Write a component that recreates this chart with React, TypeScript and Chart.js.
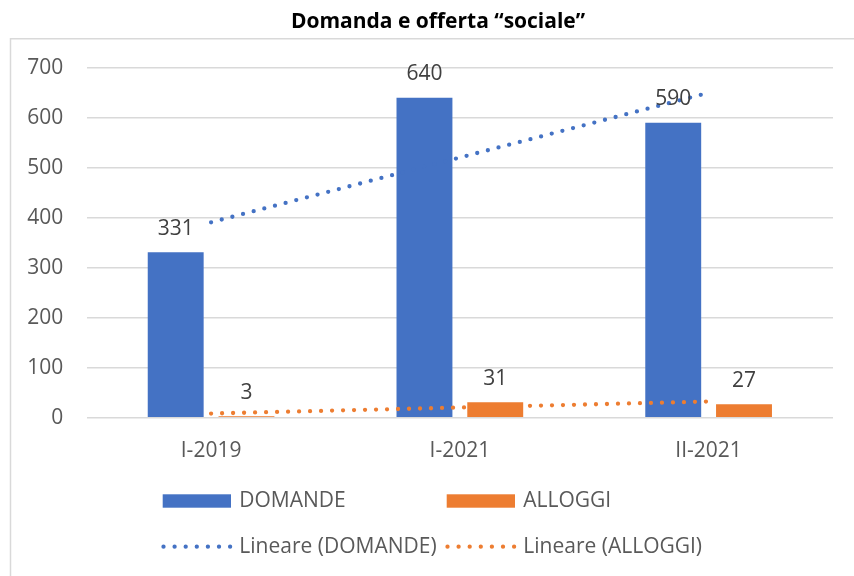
import React, { useEffect, useRef } from "react";
import { Chart, registerables } from "chart.js";

Chart.register(...registerables);

const categories = ["I-2019", "I-2021", "II-2021"];
const domande = [331, 640, 590];
const alloggi = [3, 31, 27];
const yTicks = [0, 100, 200, 300, 400, 500, 600, 700];
const titleText = "Domanda e offerta \u201csociale\u201d";
const legendLabels = ["DOMANDE", "ALLOGGI", "Lineare (DOMANDE)", "Lineare (ALLOGGI)"];

const BLUE = "#4472C4";
const ORANGE = "#ED7D31";
const FONT = "'Open Sans', 'Liberation Sans', sans-serif";

function linearTrend(values: number[]): number[] {
  const n = values.length;
  const xs = values.map((_, i) => i + 1);
  const mx = xs.reduce((a, b) => a + b, 0) / n;
  const my = values.reduce((a, b) => a + b, 0) / n;
  let num = 0;
  let den = 0;
  for (let i = 0; i < n; i++) {
    num += (xs[i] - mx) * (values[i] - my);
    den += (xs[i] - mx) * (xs[i] - mx);
  }
  const slope = num / den;
  return xs.map((x) => my + slope * (x - mx));
}

const decorPlugin = {
  id: "decor",
  beforeDraw(chart: any) {
    const ctx = chart.ctx;
    ctx.save();
    ctx.strokeStyle = "#d9d9d9";
    ctx.lineWidth = 1.5;
    ctx.beginPath();
    ctx.moveTo(10.5, 576);
    ctx.lineTo(10.5, 38.7);
    ctx.lineTo(854, 38.7);
    ctx.stroke();
    ctx.fillStyle = "#000000";
    ctx.font = `bold 21px ${FONT}`;
    ctx.textAlign = "center";
    ctx.textBaseline = "alphabetic";
    ctx.fillText(titleText, 438, 28.3);
    ctx.restore();
  },
  afterDatasetsDraw(chart: any) {
    const ctx = chart.ctx;
    ctx.save();
    ctx.font = `21px ${FONT}`;
    ctx.fillStyle = "#404040";
    ctx.textAlign = "center";
    ctx.textBaseline = "alphabetic";
    [0, 1].forEach((di) => {
      const meta = chart.getDatasetMeta(di);
      const ds = chart.data.datasets[di];
      meta.data.forEach((el: any, i: number) => {
        ctx.fillText(String(ds.data[i]), el.x, el.y - 17.5);
      });
    });
    ctx.restore();
  },
  afterDraw(chart: any) {
    const ctx = chart.ctx;
    ctx.save();
    ctx.font = `21px ${FONT}`;
    ctx.fillStyle = "#595959";
    ctx.textAlign = "left";
    ctx.textBaseline = "middle";
    const cols = [162.7, 446.7];
    const rows = [501, 546.7];
    const colors = [BLUE, ORANGE];
    for (let c = 0; c < 2; c++) {
      ctx.fillStyle = colors[c];
      ctx.fillRect(cols[c], rows[0] - 6.7, 68.3, 13.4);
      ctx.fillStyle = "#595959";
      ctx.fillText(legendLabels[c], cols[c] + 76.6, rows[0]);
    }
    for (let c = 0; c < 2; c++) {
      ctx.strokeStyle = colors[c];
      ctx.lineWidth = 4.3;
      ctx.lineCap = "round";
      ctx.setLineDash([0, 11.1]);
      ctx.beginPath();
      ctx.moveTo(cols[c] + 0.8, rows[1]);
      ctx.lineTo(cols[c] + 68, rows[1]);
      ctx.stroke();
      ctx.setLineDash([]);
      ctx.fillStyle = "#595959";
      ctx.fillText(legendLabels[c + 2], cols[c] + 76.6, rows[1]);
    }
    ctx.restore();
  },
};

export default function App() {
  const ref = useRef<HTMLCanvasElement | null>(null);
  useEffect(() => {
    if (!ref.current) return;
    const chart = new Chart(ref.current, {
      type: "bar",
      data: {
        labels: categories,
        datasets: [
          {
            type: "bar",
            label: "DOMANDE",
            data: domande,
            backgroundColor: BLUE,
            categoryPercentage: 0.569,
            barPercentage: 0.79,
            order: 2,
          },
          {
            type: "bar",
            label: "ALLOGGI",
            data: alloggi,
            backgroundColor: ORANGE,
            categoryPercentage: 0.569,
            barPercentage: 0.79,
            order: 2,
          },
          {
            type: "line",
            label: "Lineare (DOMANDE)",
            data: linearTrend(domande),
            borderColor: BLUE,
            borderWidth: 4.3,
            borderDash: [0, 11],
            borderCapStyle: "round",
            pointRadius: 0,
            fill: false,
            tension: 0,
            order: 0,
          },
          {
            type: "line",
            label: "Lineare (ALLOGGI)",
            data: linearTrend(alloggi),
            borderColor: ORANGE,
            borderWidth: 4.3,
            borderDash: [0, 11],
            borderCapStyle: "round",
            pointRadius: 0,
            fill: false,
            tension: 0,
            order: 0,
          },
        ] as any,
      },
      options: {
        responsive: false,
        animation: false,
        layout: { padding: { top: 67.7, right: 21, bottom: 98.3, left: 0 } },
        plugins: {
          legend: { display: false },
          title: { display: false },
          tooltip: { enabled: false },
        },
        scales: {
          x: {
            grid: { display: false },
            border: { display: false },
            ticks: { font: { family: FONT, size: 21 }, color: "#595959", padding: 13 },
            afterFit: (s: any) => {
              s.height = 60;
            },
          },
          y: {
            min: 0,
            max: 700,
            afterBuildTicks: (s: any) => {
              s.ticks = yTicks.map((v) => ({ value: v }));
            },
            grid: { color: "#d9d9d9", lineWidth: 1.5, drawTicks: false },
            border: { display: false },
            ticks: { font: { family: FONT, size: 21 }, color: "#595959", padding: 23.5 },
            afterFit: (s: any) => {
              s.width = 86.7;
            },
          },
        },
      },
      plugins: [decorPlugin],
    });
    return () => chart.destroy();
  }, []);
  return (
    <div style={{ position: "absolute", left: 0, top: 0, width: 854, height: 576, background: "#fff" }}>
      <canvas ref={ref} width={854} height={576} style={{ display: "block" }} />
    </div>
  );
}
